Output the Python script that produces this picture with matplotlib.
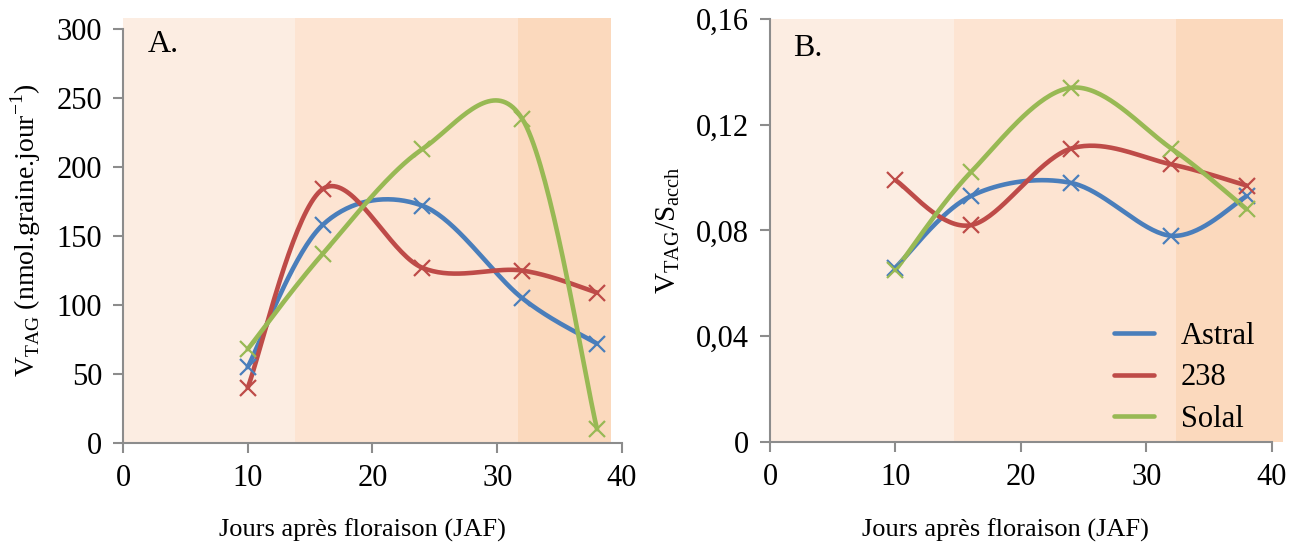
import numpy as np
import matplotlib
matplotlib.use('Agg')
from matplotlib import pyplot as plt

plt.rcParams['font.family'] = 'Liberation Serif'
plt.rcParams['mathtext.fontset'] = 'custom'
plt.rcParams['mathtext.rm'] = 'Liberation Serif'

# data
jaf = [10, 16, 24, 32, 38]
noms = ['Astral', '238', 'Solal']
couleurs = ['#4A7EBB', '#BE4B48', '#98B954']

vtag_astral = [55, 158, 172, 105, 72]
vtag_238 = [40, 184, 127, 125, 109]
vtag_solal = [68, 137, 213, 235, 10]

ratio_astral = [0.066, 0.093, 0.098, 0.078, 0.093]
ratio_238 = [0.099, 0.082, 0.111, 0.105, 0.097]
ratio_solal = [0.065, 0.102, 0.134, 0.111, 0.088]

# shaded stages (JAF limits)
bandes_A = [0, 13.8, 31.7, 39.1]
bandes_B = [0, 14.7, 32.4, 40.9]
fonds = ['#FCEDE2', '#FDE4D2', '#FBD9BD']


def lisse(x, y, n=40):
    # Excel-like smoothed line (Catmull-Rom through bezier)
    p = np.column_stack([x, y]).astype(float)
    p = np.vstack([p[0], p, p[-1]])
    t = np.linspace(0, 1, n)[:, None]
    out = []
    for i in range(1, len(p) - 2):
        p0, p1, p2, p3 = p[i - 1], p[i], p[i + 1], p[i + 2]
        c1 = p1 + (p2 - p0) / 6
        c2 = p2 - (p3 - p1) / 6
        seg = (1 - t) ** 3 * p1 + 3 * (1 - t) ** 2 * t * c1 + 3 * (1 - t) * t ** 2 * c2 + t ** 3 * p2
        out.append(seg)
    out = np.vstack(out)
    return out[:, 0], out[:, 1]


fig = plt.figure(figsize=(13.01, 5.46), dpi=100)
axA = fig.add_axes([0.0945, 0.1886, 0.3836, 0.7784])
axB = fig.add_axes([0.5919, 0.1905, 0.3943, 0.7747])

gris = '#8C8C8C'
for ax, bandes in [(axA, bandes_A), (axB, bandes_B)]:
    for i in range(3):
        ax.axvspan(bandes[i], bandes[i + 1], color=fonds[i], lw=0, zorder=0)
    for s in ['top', 'right']:
        ax.spines[s].set_visible(False)
    for s in ['left', 'bottom']:
        ax.spines[s].set_color(gris)
        ax.spines[s].set_linewidth(1.5)
    ax.tick_params(direction='out', length=7, width=1.5, color=gris,
                   labelsize=22, pad=8)
    ax.set_xticks([0, 10, 20, 30, 40])
    ax.set_xlabel('Jours après floraison (JAF)', fontsize=19)
axA.xaxis.set_label_coords(0.479, -0.178)
axB.xaxis.set_label_coords(0.458, -0.181)

# panel A
for y, c, nom in zip([vtag_astral, vtag_238, vtag_solal], couleurs, noms):
    xs, ys = lisse(jaf, y)
    axA.plot(xs, ys, color=c, lw=3.3, solid_capstyle='round', zorder=3)
    axA.plot(jaf, y, 'x', color=c, ms=11, mew=1.6, zorder=4)
axA.set_xlim(0, 40)
axA.set_ylim(0, 308)
axA.spines['left'].set_bounds(0, 300)
axA.spines['bottom'].set_bounds(0, 40)
axA.set_yticks(range(0, 301, 50))
axA.set_ylabel(r'V$_{\mathrm{TAG}}$ (nmol.graine.jour$^{\mathrm{-1}}$)', fontsize=20, labelpad=10)
axA.text(2.0, 289, 'A.', fontsize=23, va='center')

# panel B
for y, c, nom in zip([ratio_astral, ratio_238, ratio_solal], couleurs, noms):
    xs, ys = lisse(jaf, y)
    axB.plot(xs, ys, color=c, lw=3.3, solid_capstyle='round', zorder=3, label=nom)
    axB.plot(jaf, y, 'x', color=c, ms=11, mew=1.6, zorder=4)
axB.set_xlim(0, 40.9)
axB.set_ylim(0, 0.16)
axB.spines['bottom'].set_bounds(0, 40)
axB.set_yticks([0, 0.04, 0.08, 0.12, 0.16])
axB.set_yticklabels(['0', '0,04', '0,08', '0,12', '0,16'])
axB.set_ylabel(r'V$_{\mathrm{TAG}}$/S$_{\mathrm{acch}}$', fontsize=21, labelpad=10)
axB.text(1.8, 0.149, 'B.', fontsize=23, va='center')
axB.legend(loc='lower right', frameon=False, fontsize=22, handlelength=1.3,
           handletextpad=0.9, labelspacing=0.4, bbox_to_anchor=(1.0, -0.045))

fig.savefig('out.png', dpi=100)
